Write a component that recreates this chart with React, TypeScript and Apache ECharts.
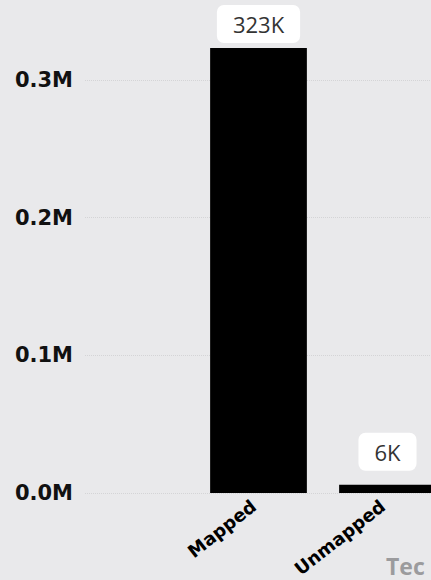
import React, { useEffect, useRef } from "react";
import * as echarts from "echarts";

const categories = ["Mapped", "Unmapped"];
const values = [323000, 6000];
const valueLabels = ["323K", "6K"];
const yTicks = [0, 100000, 200000, 300000];

export default function App() {
  const ref = useRef<HTMLDivElement>(null);
  useEffect(() => {
    if (!ref.current) return;
    const chart = echarts.init(ref.current, null, { renderer: "svg" });
    const labelDistances = [5, 14];
    chart.setOption({
      animation: false,
      backgroundColor: "#e9e9eb",
      grid: [
        { left: 85, right: 21, top: 0, bottom: 87, outerBoundsMode: "none", containLabel: false },
        { left: 194, right: 0, top: 0, bottom: 87, outerBoundsMode: "none", containLabel: false },
      ],
      xAxis: [
        { type: "value", gridIndex: 0, show: false, min: 0, max: 1 },
        {
          type: "category",
          gridIndex: 1,
          data: categories,
          axisLine: { show: false },
          axisTick: { show: false },
          axisLabel: {
            rotate: 38,
            margin: 7,
            padding: [0, 6, 0, 0],
            interval: 0,
            color: "#000",
            fontFamily: "DejaVu Sans",
            fontWeight: "bold",
            fontSize: 18,
          },
        },
      ],
      yAxis: [
        {
          type: "value",
          gridIndex: 0,
          min: 0,
          max: 400000,
          interval: 100000,
          axisLine: { show: false },
          axisTick: { show: false },
          splitLine: {
            show: true,
            lineStyle: { type: "dotted", color: "#d4d4d6", width: 1 },
          },
          axisLabel: {
            margin: 12,
            color: "#111",
            fontFamily: "DejaVu Sans",
            fontWeight: "bold",
            fontSize: 21,
            formatter: (v: number) =>
              yTicks.indexOf(v) >= 0 ? (v / 1000000).toFixed(1) + "M" : "",
          },
        },
        {
          type: "value",
          gridIndex: 1,
          min: 0,
          max: 400000,
          interval: 100000,
          show: false,
          splitLine: { show: false },
        },
      ],
      series: [
        {
          type: "bar",
          xAxisIndex: 1,
          yAxisIndex: 1,
          barWidth: "75%",
          itemStyle: { color: "#000" },
          data: values.map((v, i) => ({
            value: v,
            label: {
              show: true,
              position: "top",
              distance: labelDistances[i],
              formatter: valueLabels[i],
              backgroundColor: "#ffffff",
              borderRadius: 7,
              padding: [6, 16],
              lineHeight: 26,
              color: "#333",
              fontFamily: "Open Sans",
              fontSize: 22,
            },
          })),
        },
      ],
      graphic: [
        {
          type: "text",
          left: 386,
          top: 612,
          style: {
            text: "Tec",
            fill: "#9b9b9d",
            font: "bold 23px 'Open Sans'",
          },
        },
      ],
    });
    return () => chart.dispose();
  }, []);
  return (
    <div
      ref={ref}
      style={{ position: "fixed", left: 0, top: -58, width: 452, height: 638 }}
    />
  );
}
